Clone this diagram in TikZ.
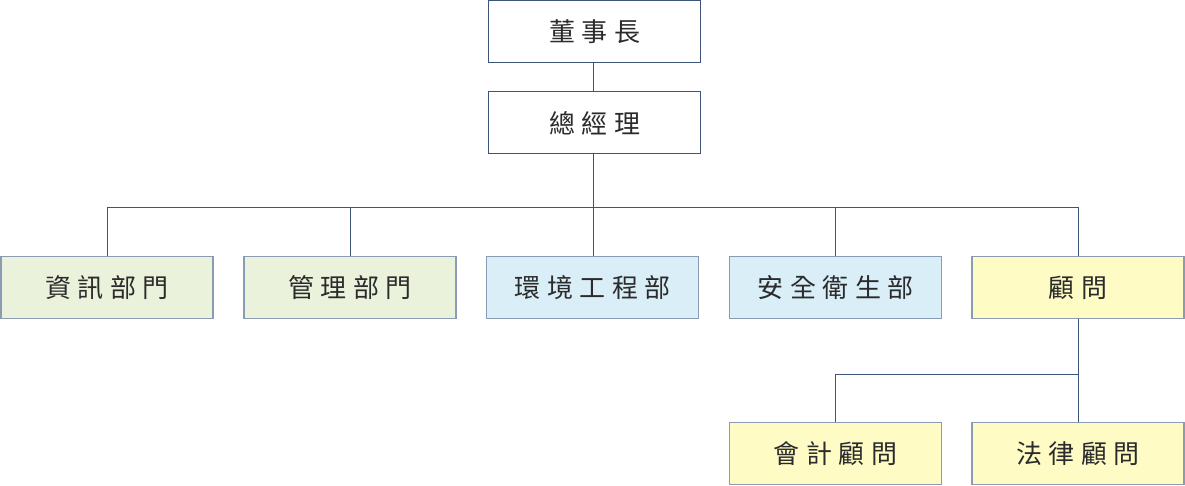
\documentclass[tikz,border=0pt]{standalone}
\usepackage{fontspec}
\newfontfamily\cjk{Noto Sans CJK TC}
\definecolor{linec}{HTML}{3B5478}
\definecolor{bord}{HTML}{8B9BB3}
\definecolor{gfill}{HTML}{EBF2DC}
\definecolor{bfill}{HTML}{DAEEF8}
\definecolor{yfill}{HTML}{FEFBC4}
\definecolor{txt}{HTML}{2B2B2B}
\tikzset{
  box/.style={draw, line width=1.2pt, minimum width=212pt, minimum height=62pt, inner sep=0pt, font=\cjk\fontsize{26}{30}\selectfont, text=txt},
  topbox/.style={box, draw=linec, fill=white, line width=1pt},
  gbox/.style={box, draw=bord, fill=gfill},
  bbox/.style={box, draw=bord, fill=bfill},
  ybox/.style={box, draw=bord, fill=yfill},
  conn/.style={draw=linec, line width=1pt}
}
\newcommand\chsp{\kern6.5pt}
\begin{document}
\begin{tikzpicture}[x=1pt,y=-1pt]
\useasboundingbox (0,0) rectangle (1185,486);
\node[topbox] (ceo) at (594.5,31.5) {董\chsp 事\chsp 長};
\node[topbox] (gm) at (594.5,123) {總\chsp 經\chsp 理};
\node[gbox] (d1) at (107,287.5) {資\chsp 訊\chsp 部\chsp 門};
\node[gbox] (d2) at (350,287.5) {管\chsp 理\chsp 部\chsp 門};
\node[bbox] (d3) at (592.5,287.5) {環\chsp 境\chsp 工\chsp 程\chsp 部};
\node[bbox] (d4) at (835.5,287.5) {安\chsp 全\chsp 衛\chsp 生\chsp 部};
\node[ybox] (d5) at (1078,287.5) {顧\chsp 問};
\node[ybox] (acc) at (835.5,453.5) {會\chsp 計\chsp 顧\chsp 問};
\node[ybox] (law) at (1078,453.5) {法\chsp 律\chsp 顧\chsp 問};
\coordinate (bus) at (593,208);
\coordinate (sub) at (1078,374);
\draw[conn] (ceo.south -| bus) -- (gm.north -| bus);
\draw[conn] (gm.south -| bus) -- (bus);
\draw[conn] (d1.north) -- (d1.north |- bus) -- (d5.north |- bus) -- (d5.north);
\draw[conn] (d2.north) -- (d2.north |- bus);
\draw[conn] (d3.north -| bus) -- (bus);
\draw[conn] (d4.north) -- (d4.north |- bus);
\draw[conn] (d5.south) -- (law.north);
\draw[conn] (acc.north) -- (acc.north |- sub) -- (sub);
\end{tikzpicture}
\end{document}
